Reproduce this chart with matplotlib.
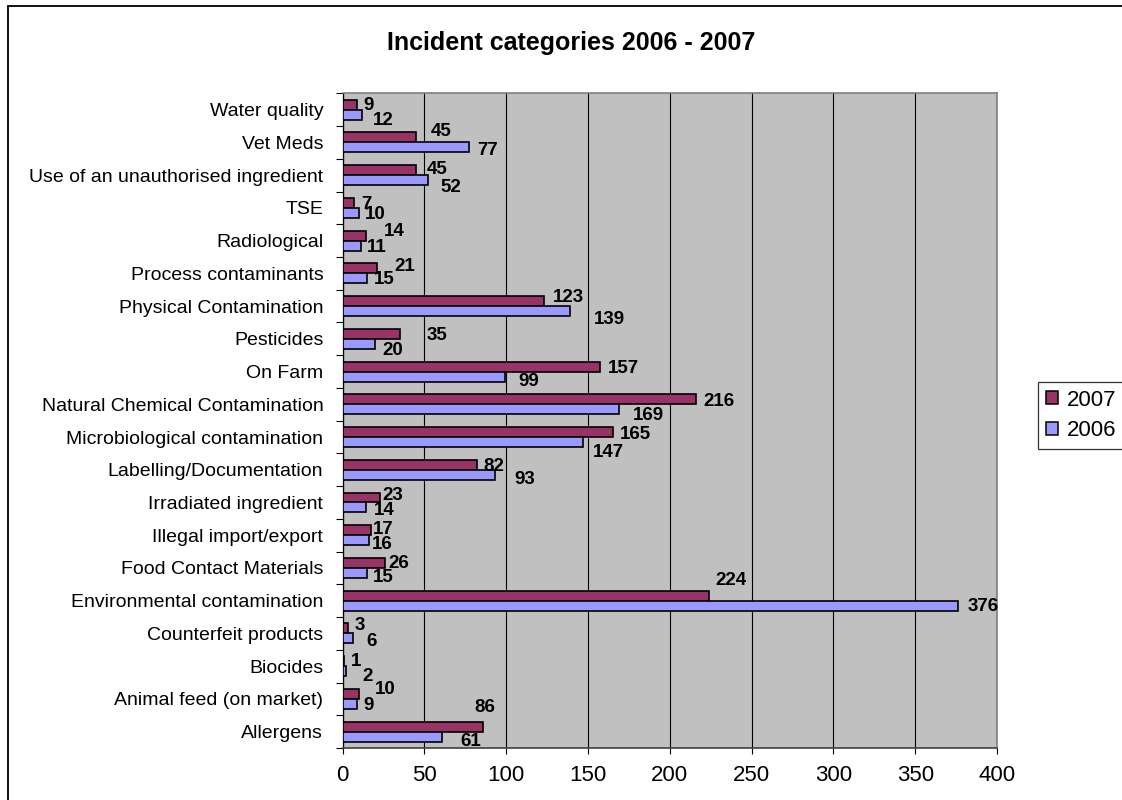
import matplotlib
matplotlib.use("Agg")
import matplotlib.pyplot as plt
from matplotlib.patches import Patch, Rectangle
import numpy as np

plt.rcParams['font.family'] = ['Liberation Sans', 'DejaVu Sans']

# Incident categories (bottom to top on the chart)
categories = [
    "Allergens", "Animal feed (on market)", "Biocides", "Counterfeit products",
    "Environmental contamination", "Food Contact Materials", "Illegal import/export",
    "Irradiated ingredient", "Labelling/Documentation", "Microbiological contamination",
    "Natural Chemical Contamination", "On Farm", "Pesticides", "Physical Contamination",
    "Process contaminants", "Radiological", "TSE", "Use of an unauthorised ingredient",
    "Vet Meds", "Water quality",
]
incidents_2007 = [86, 10, 1, 3, 224, 26, 17, 23, 82, 165, 216, 157, 35, 123, 21, 14, 7, 45, 45, 9]
incidents_2006 = [61, 9, 2, 6, 376, 15, 16, 14, 93, 147, 169, 99, 20, 139, 15, 11, 10, 52, 77, 12]
x_ticks = [0, 50, 100, 150, 200, 250, 300, 350, 400]

# Data-label nudges in pixels (right, down) from the end of each bar
nudge_2007 = [(-9, -21), (16, -7), (7, -2), (7, -5), (6, -17), (3, -2), (2, -3), (2, -4),
              (7, 0), (7, 0), (7, 0), (8, 0), (27, -1), (9, -6), (17, -4), (18, -6),
              (7, -1), (10, -3), (14, -8), (6, -1)]
nudge_2006 = [(18, 3), (6, -1), (16, 3), (14, 1), (10, -1), (6, 2), (3, 2), (8, 1),
              (20, 3), (10, 8), (14, 4), (14, 3), (7, 4), (24, 6), (7, -1), (6, 0),
              (6, -1), (13, 5), (9, 1), (11, 4)]

c2007 = "#993366"
c2006 = "#9999FF"
bg = "#C0C0C0"

fig = plt.figure(figsize=(11.22, 8.0), dpi=100)
ax = fig.add_axes([342.7 / 1122, 1 - 748 / 800, (997 - 342.7) / 1122, (748 - 93.3) / 800])
ax.set_facecolor(bg)

y = np.arange(len(categories))
h = 0.305
ax.barh(y + h / 2, incidents_2007, height=h, color=c2007, edgecolor="black",
        linewidth=1.2, label="2007", zorder=3)
ax.barh(y - h / 2, incidents_2006, height=h, color=c2006, edgecolor="black",
        linewidth=1.2, label="2006", zorder=3)

label_fs = 13.5
cap_half = 0.716 * label_fs * 100 / 72 / 2
for yy, v, (dx, dy) in zip(y + h / 2, incidents_2007, nudge_2007):
    ax.annotate(str(v), xy=(v, yy), xytext=(dx, -dy - cap_half), textcoords="offset pixels",
                ha="left", va="baseline", fontsize=label_fs, fontweight="bold", zorder=5,
                annotation_clip=False)
for yy, v, (dx, dy) in zip(y - h / 2, incidents_2006, nudge_2006):
    ax.annotate(str(v), xy=(v, yy), xytext=(dx, -dy - cap_half), textcoords="offset pixels",
                ha="left", va="baseline", fontsize=label_fs, fontweight="bold", zorder=5,
                annotation_clip=False)

ax.set_xlim(0, 400)
ax.set_ylim(-0.5, len(categories) - 0.5)
ax.set_xticks(x_ticks)
ax.set_xticklabels([str(t) for t in x_ticks], fontsize=16)
ax.tick_params(axis="x", direction="out", length=4.5, width=0.8, pad=8)

ax.set_yticks(y)
ax.set_yticklabels(categories, fontsize=14)
ax.set_yticks(np.arange(-0.5, len(categories), 1.0), minor=True)
ax.tick_params(axis="y", which="major", length=0, pad=14)
ax.tick_params(axis="y", which="minor", direction="out", length=5, width=0.8)

ax.grid(axis="x", color="black", linewidth=0.8, zorder=1)
ax.set_axisbelow(True)

ax.spines["left"].set_color("black")
ax.spines["left"].set_linewidth(0.9)
ax.spines["bottom"].set_color("#404040")
ax.spines["bottom"].set_linewidth(1.2)
for s in ("top", "right"):
    ax.spines[s].set_color("#808080")
    ax.spines[s].set_linewidth(1.2)

fig.text(571 / 1122, 1 - 43 / 800, "Incident categories 2006 - 2007", ha="center",
         va="center", fontsize=18, fontweight="bold")

handles = [Patch(facecolor=c2007, edgecolor="black", linewidth=1.1),
           Patch(facecolor=c2006, edgecolor="black", linewidth=1.1)]
leg = fig.legend(handles, ["2007", "2006"], loc="center left",
                 bbox_to_anchor=(1038 / 1122, 1 - 415.5 / 800), fontsize=16,
                 frameon=True, fancybox=False, handlelength=0.55, handleheight=0.55,
                 handletextpad=0.4, borderpad=0.35, labelspacing=0.45,
                 borderaxespad=0)
leg.get_frame().set_edgecolor("black")
leg.get_frame().set_linewidth(0.9)

# Chart frame (left and top edges visible)
fig.patches.append(Rectangle((8 / 1122, -0.1), 1.2, 1.1 - 6 / 800, transform=fig.transFigure,
                             fill=False, edgecolor="black", linewidth=1.3))

fig.savefig("out.png", dpi=100)
